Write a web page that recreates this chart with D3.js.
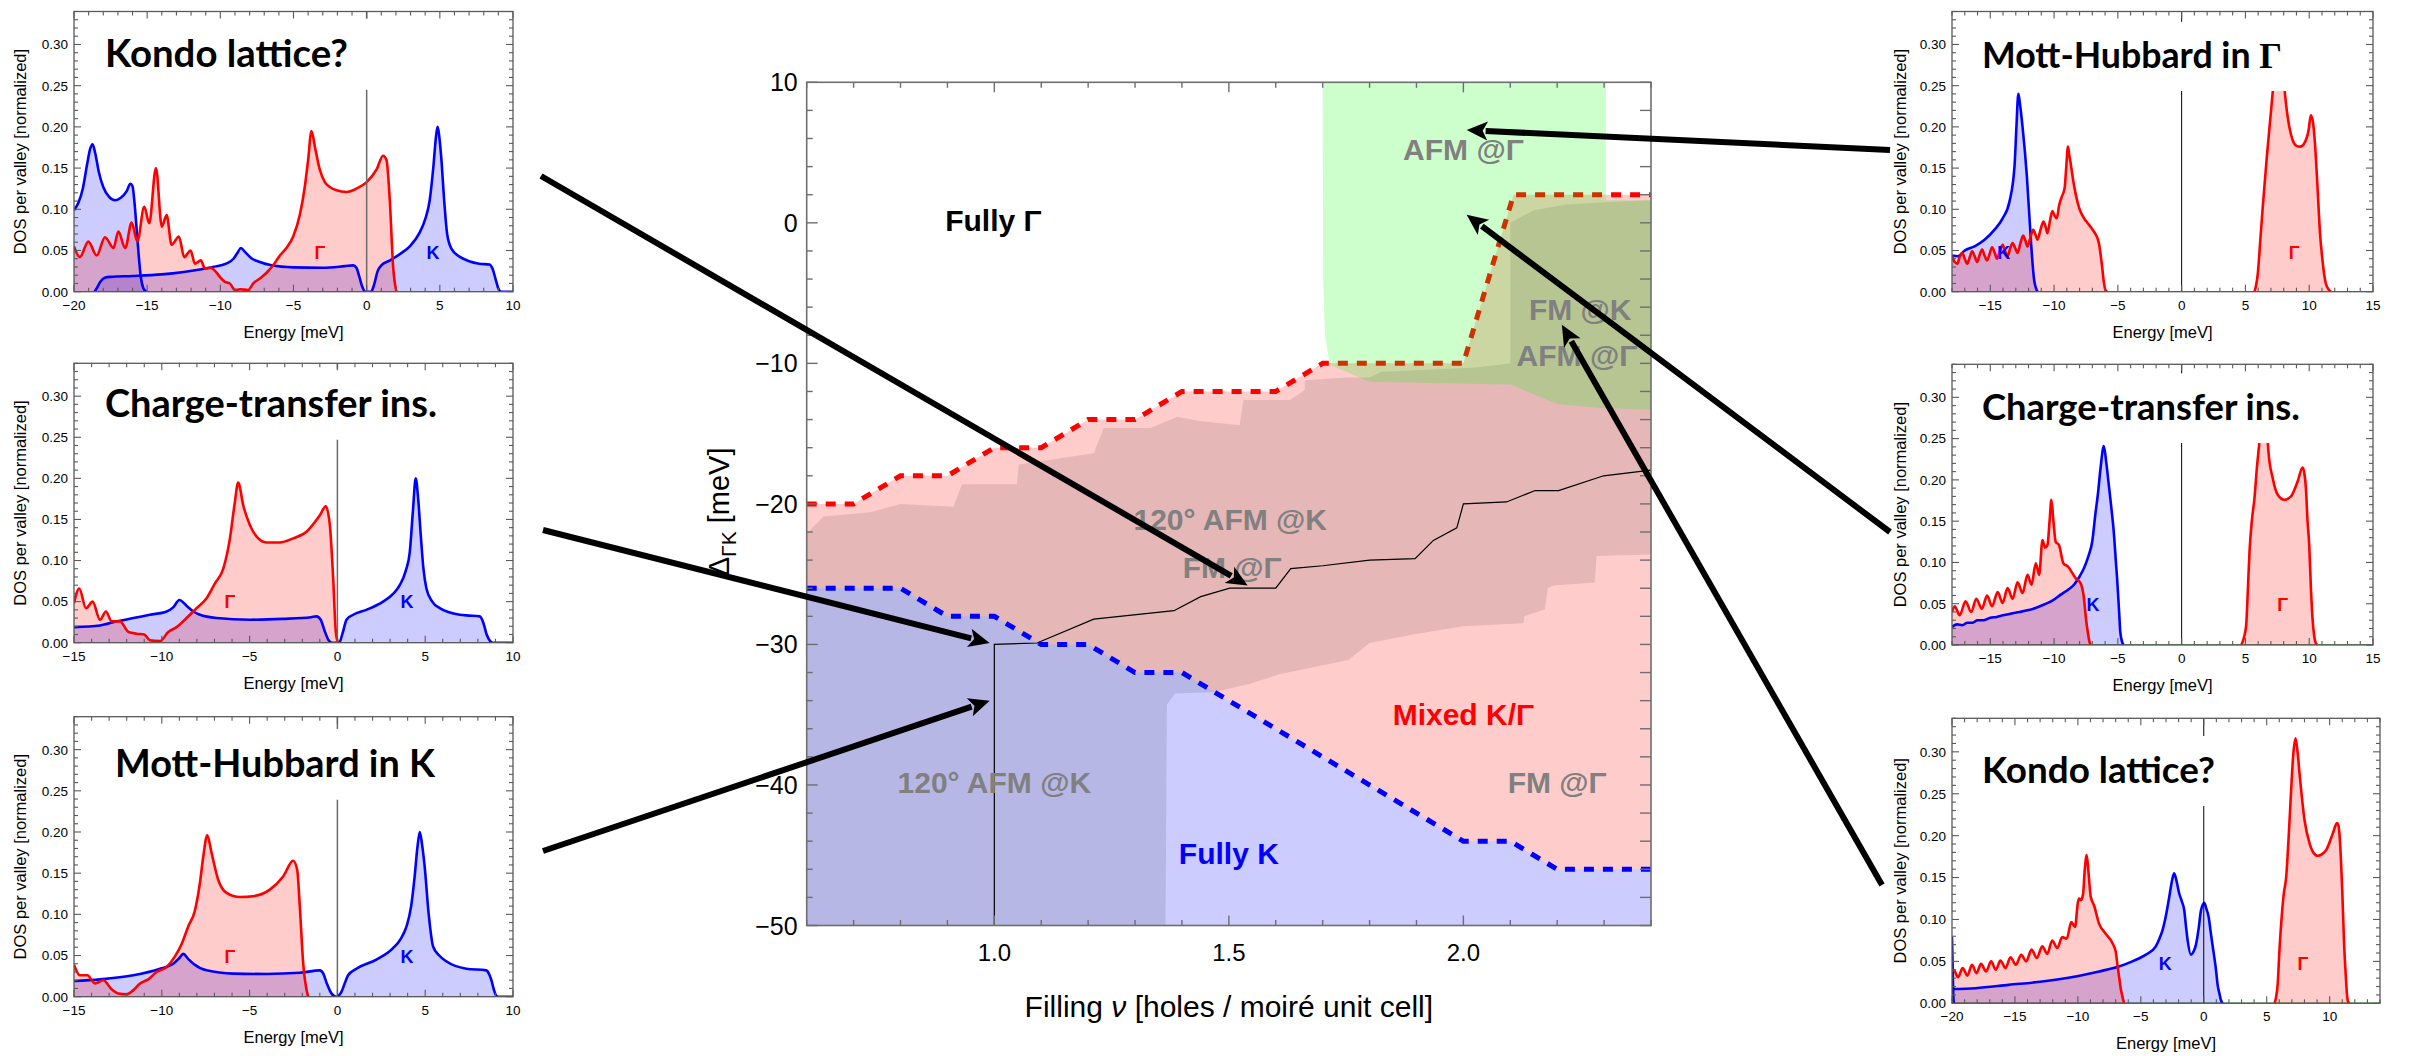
<!DOCTYPE html>
<html>
<head>
<meta charset="utf-8">
<script src="https://cdn.jsdelivr.net/npm/d3@7"></script>
<style>
  body { margin: 0; background: #fff; }
  svg { display: block; }
</style>
</head>
<body>
<svg id="fig" width="2423" height="1056"></svg>
<script>
// ================= Phase diagram: filling ν vs Δ_ΓK =================
const fillingMajorTicks = [1.0, 1.5, 2.0];
const deltaMajorTicks = [10, 0, -10, -20, -30, -40, -50];

// K / mixed boundary (blue dashed)
const kBoundary = [[0.6,-26],[0.8,-26],[0.9,-28],[1.0,-28],[1.1,-30],[1.2,-30],[1.3,-32],[1.4,-32],
  [2.0,-44],[2.1,-44],[2.2,-46],[2.4,-46]];
// Γ / mixed boundary (red dashed)
const gammaBoundary = [[0.6,-20],[0.7,-20],[0.8,-18],[0.9,-18],[1.0,-16],[1.1,-16],[1.2,-14],[1.3,-14],
  [1.4,-12],[1.6,-12],[1.7,-10],[2.0,-10],[2.107,2],[2.4,2]];
// magnetically ordered region (AFM @K / FM @Γ / FM @K)
const magneticRegion = [[0.6,-22.1],[0.636,-20.9],[0.735,-20.6],[0.8,-20.0],[0.913,-20.2],[0.931,-18.6],
  [1.048,-18.6],[1.052,-17.2],[1.212,-16.4],[1.233,-14.6],[1.333,-14.6],[1.39,-13.8],[1.438,-14.1],
  [1.523,-14.4],[1.531,-12.6],[1.63,-12.6],[1.662,-11.9],[1.662,-11.2],[1.751,-11.0],[1.80,-11.0],
  [1.826,-10.6],[2.028,-10.3],[2.1,-10.0],[2.1,0.0],[2.15,0.9],[2.22,1.3],[2.32,1.5],[2.4,1.6],
  [2.4,-23.6],[2.284,-23.7],[2.28,-25.6],[2.192,-25.8],[2.18,-26.0],[2.174,-27.5],[2.13,-28.0],
  [2.128,-28.5],[2.0,-28.7],[1.893,-29.3],[1.8,-29.9],[1.755,-31.1],[1.61,-32.1],[1.545,-32.8],
  [1.468,-33.4],[1.385,-33.5],[1.368,-34.3],[1.365,-50],[0.6,-50]];
// AFM @Γ region
const gammaAfmRegion = [[1.700,10],[1.701,-4],[1.705,-8],[1.715,-10.1],[1.80,-11.3],[2.10,-11.5],
  [2.2,-12.9],[2.3,-13.2],[2.4,-13.3],[2.4,1.6],[2.304,1.6],[2.304,10]];
// 120° AFM @K  |  FM @Γ separation
const afmFmLine = [[1.0,-50],[1.0,-30],[1.091,-29.9],[1.212,-28.2],[1.383,-27.6],[1.44,-26.6],[1.502,-26.0],
  [1.6,-26.0],[1.632,-24.6],[1.70,-24.4],[1.80,-24.0],[1.897,-23.9],[1.936,-22.6],[1.986,-21.7],[2.0,-20.0],
  [2.092,-19.86],[2.153,-19.05],[2.203,-19.05],[2.299,-18.0],[2.4,-17.6]];

const phaseLabelText = ["Fully Γ","AFM @Γ","FM @K","AFM @Γ","120° AFM @K","FM @Γ","120° AFM @K","Fully K","Mixed K/Γ","FM @Γ"];
const phaseLabelAt = [[0.998,-0.6],[2.0,4.48],[2.249,-6.9],[2.242,-10.2],[1.503,-21.84],[1.507,-25.25],
  [1.0,-40.6],[1.5,-45.6],[2.0,-35.7],[2.2,-40.6]];
const phaseLabelKind = ["black","grey","grey","grey","grey","grey","grey","blue","red","grey"];

// arrow targets on the phase diagram (ν, Δ_ΓK)
const arrowTargets = [[1.54,-25.8],[0.99,-29.9],[0.99,-34.0],[2.007,6.6],[2.007,0.57],[2.21,-7.25]];

// ================= DOS curves (energy meV, DOS) =================
// Left column
const kondoA_kLow = [[-20,0.099],[-19.7,0.108],[-19.4,0.125],[-19.1,0.155],[-18.9,0.173],[-18.73,0.179],[-18.55,0.168],
  [-18.3,0.145],[-18.0,0.127],[-17.6,0.115],[-17.2,0.111],[-16.8,0.114],[-16.4,0.122],[-16.15,0.131],[-16.0,0.128],
  [-15.85,0.105],[-15.65,0.06],[-15.45,0.02],[-15.25,0.004],[-15.05,0]];
const kondoA_k = [[-18.6,0],[-18.45,0.004],[-18.2,0.012],[-17.9,0.017],[-17.5,0.018],[-16,0.019],[-14,0.021],[-12.5,0.024],
  [-11.4,0.027],[-10.5,0.030],[-9.6,0.034],[-9.1,0.040],[-8.8,0.048],[-8.6,0.053],[-8.3,0.048],[-7.9,0.041],[-7.3,0.036],
  [-6.5,0.032],[-5,0.0295],[-3,0.029],[-1.5,0.031],[-0.92,0.032],[-0.7,0.029],[-0.5,0.018],[-0.3,0.006],[-0.1,0],[0.3,0],
  [0.5,0.008],[0.75,0.025],[1.0,0.032],[1.6,0.038],[2.3,0.046],[3.0,0.056],[3.6,0.071],[4.0,0.088],[4.3,0.11],[4.55,0.15],
  [4.75,0.19],[4.85,0.20],[4.95,0.19],[5.1,0.162],[5.3,0.11],[5.5,0.07],[5.8,0.052],[6.4,0.042],[7.0,0.037],[7.7,0.034],
  [8.4,0.033],[8.6,0.028],[8.8,0.016],[9.0,0.004],[9.2,0],[10,0]];
const kondoA_g = [[-20,0.055],[-19.6,0.042],[-19.02,0.061],[-18.45,0.044],[-17.88,0.066],[-17.3,0.053],[-16.97,0.073],
  [-16.5,0.053],[-16.06,0.084],[-15.67,0.061],[-15.2,0.103],[-14.86,0.083],[-14.4,0.150],[-14.0,0.079],[-13.67,0.093],
  [-13.33,0.057],[-12.83,0.067],[-12.47,0.042],[-12.03,0.050],[-11.74,0.034],[-11.33,0.038],[-11.05,0.028],[-10.67,0.029],
  [-10.3,0.024],[-10.03,0.018],[-9.69,0.012],[-9.35,0.010],[-9.0,0.002],[-8.66,0.003],[-8.1,0.002],[-7.75,0.010],
  [-7.3,0.016],[-6.84,0.023],[-6.39,0.032],[-5.93,0.044],[-5.48,0.053],[-5.02,0.067],[-4.57,0.093],[-4.23,0.127],
  [-4.0,0.160],[-3.77,0.195],[-3.54,0.176],[-3.2,0.148],[-2.86,0.133],[-2.52,0.127],[-2.06,0.123],[-1.38,0.121],
  [-0.7,0.125],[0,0.133],[0.67,0.148],[1.12,0.165],[1.35,0.16],[1.58,0.111],[1.81,0.030],[2.03,0]];

const chargeA_k = [[-15,0.019],[-13.52,0.021],[-12.57,0.026],[-11.62,0.030],[-10.68,0.034],[-9.73,0.038],[-9.35,0.043],
  [-9.0,0.052],[-8.59,0.045],[-8.2,0.038],[-7.83,0.034],[-6.88,0.030],[-4.98,0.028],[-3.09,0.029],[-1.5,0.031],[-1.19,0.032],
  [-0.95,0.028],[-0.72,0.014],[-0.5,0.003],[-0.3,0],[0.1,0],[0.3,0.012],[0.52,0.028],[0.9,0.034],[1.65,0.040],[2.6,0.050],
  [3.2,0.060],[3.55,0.070],[3.9,0.088],[4.12,0.11],[4.3,0.16],[4.46,0.20],[4.6,0.175],[4.75,0.13],[4.9,0.09],[5.07,0.066],
  [5.4,0.05],[5.83,0.042],[6.97,0.034],[7.5,0.033],[8.1,0.032],[8.3,0.025],[8.5,0.01],[8.7,0.002],[8.86,0],[10,0]];
const chargeA_g = [[-15,0.048],[-14.7,0.066],[-14.32,0.042],[-13.94,0.050],[-13.52,0.028],[-13.18,0.038],[-12.86,0.026],
  [-12.38,0.026],[-11.9,0.013],[-11.43,0.011],[-11.0,0.010],[-10.68,0.003],[-10.1,0.002],[-9.63,0.013],[-9.16,0.019],
  [-8.59,0.030],[-8.02,0.042],[-7.45,0.054],[-6.98,0.072],[-6.5,0.090],[-6.12,0.127],[-5.84,0.171],[-5.65,0.195],
  [-5.36,0.167],[-4.98,0.143],[-4.6,0.129],[-4.04,0.122],[-3.28,0.122],[-2.52,0.127],[-1.76,0.135],[-1.0,0.155],
  [-0.66,0.166],[-0.43,0.143],[-0.24,0.078],[-0.09,0.013],[0.04,0]];

const mottK_k = [[-15,0.019],[-13.52,0.021],[-11.62,0.026],[-10.1,0.034],[-9.35,0.040],[-9.0,0.047],[-8.78,0.052],
  [-8.5,0.046],[-8.2,0.040],[-7.45,0.032],[-5.93,0.028],[-4.04,0.0276],[-2.14,0.029],[-1.0,0.032],[-0.8,0.028],
  [-0.6,0.016],[-0.34,0.004],[-0.05,0],[0.1,0.002],[0.23,0.006],[0.45,0.018],[0.61,0.026],[1.08,0.034],[2.22,0.045],
  [3.17,0.059],[3.6,0.07],[3.93,0.085],[4.2,0.11],[4.4,0.146],[4.55,0.18],[4.69,0.20],[4.82,0.185],[4.97,0.158],
  [5.2,0.1],[5.45,0.061],[5.8,0.05],[6.2,0.043],[7.34,0.034],[8.48,0.032],[8.65,0.027],[8.77,0.020],[8.92,0.008],
  [9.05,0.001],[9.15,0],[10,0]];
const mottK_g = [[-15,0.039],[-14.66,0.026],[-14.24,0.026],[-13.8,0.016],[-13.33,0.020],[-12.86,0.009],[-12.48,0.004],
  [-12.0,0.003],[-11.62,0.008],[-11.24,0.016],[-10.77,0.021],[-10.3,0.030],[-9.73,0.036],[-9.25,0.049],[-8.87,0.064],
  [-8.5,0.085],[-8.11,0.105],[-7.83,0.138],[-7.64,0.170],[-7.41,0.196],[-7.17,0.175],[-6.79,0.142],[-6.31,0.126],
  [-5.55,0.121],[-4.8,0.122],[-3.85,0.130],[-3.09,0.146],[-2.52,0.165],[-2.29,0.154],[-2.14,0.109],[-1.95,0.041],[-1.67,0]];

// Right column
const mottG_k = [[-18,0.044],[-17.53,0.043],[-17.0,0.050],[-16.23,0.055],[-15.45,0.063],[-14.68,0.075],[-14.03,0.089],
  [-13.5,0.109],[-13.1,0.152],[-12.95,0.2],[-12.8,0.240],[-12.65,0.225],[-12.47,0.200],[-12.13,0.140],[-11.82,0.063],
  [-11.56,0.014],[-11.3,0]];
const mottG_gLow = [[-18,0.044],[-17.79,0.036],[-17.58,0.034],[-17.4,0.042],[-17.19,0.047],[-17.0,0.04],[-16.81,0.034],
  [-16.6,0.042],[-16.42,0.049],[-16.2,0.042],[-16.03,0.036],[-15.85,0.044],[-15.64,0.051],[-15.45,0.044],[-15.25,0.038],
  [-15.05,0.046],[-14.86,0.054],[-14.65,0.047],[-14.47,0.040],[-14.25,0.049],[-14.03,0.057],[-13.85,0.05],[-13.64,0.043],
  [-13.45,0.052],[-13.25,0.059],[-13.05,0.053],[-12.86,0.047],[-12.65,0.058],[-12.42,0.068],[-12.25,0.062],[-12.08,0.055],
  [-11.85,0.066],[-11.64,0.075],[-11.45,0.069],[-11.3,0.063],[-11.05,0.076],[-10.83,0.085],[-10.65,0.078],[-10.52,0.071],
  [-10.3,0.088],[-10.13,0.098],[-9.95,0.092],[-9.79,0.089],[-9.6,0.105],[-9.4,0.115],[-9.17,0.126],[-9.05,0.15],
  [-8.91,0.176],[-8.8,0.165],[-8.7,0.156],[-8.5,0.135],[-8.31,0.119],[-8.1,0.105],[-7.92,0.097],[-7.6,0.088],[-7.4,0.084],
  [-7.1,0.078],[-6.88,0.073],[-6.6,0.065],[-6.49,0.059],[-6.35,0.045],[-6.23,0.030],[-6.1,0.012],[-5.97,0.002],[-5.84,0]];
const mottG_gHigh = [[5.71,0],[5.97,0.022],[6.2,0.07],[6.36,0.103],[6.68,0.164],[7.01,0.220],[7.27,0.265],[7.5,0.31],
  [7.65,0.318],[7.85,0.29],[8.1,0.24],[8.44,0.200],[8.7,0.184],[9.0,0.177],[9.3,0.176],[9.61,0.180],[9.95,0.196],
  [10.13,0.214],[10.3,0.205],[10.45,0.18],[10.65,0.127],[10.85,0.07],[11.04,0.038],[11.3,0.01],[11.56,0.002],[11.69,0]];

const chargeB_k = [[-18,0.022],[-17.6,0.025],[-17.2,0.024],[-16.8,0.027],[-16.4,0.027],[-16.0,0.030],[-15.5,0.030],
  [-15.0,0.033],[-14.5,0.034],[-14.0,0.036],[-13.38,0.038],[-12.7,0.040],[-12.08,0.042],[-11.4,0.045],[-10.78,0.049],
  [-10.1,0.054],[-9.48,0.061],[-8.9,0.067],[-8.44,0.073],[-8.0,0.083],[-7.66,0.093],[-7.3,0.108],[-7.01,0.125],
  [-6.75,0.16],[-6.57,0.182],[-6.35,0.215],[-6.1,0.241],[-5.9,0.22],[-5.71,0.194],[-5.5,0.165],[-5.32,0.137],
  [-5.15,0.1],[-5.06,0.081],[-4.9,0.04],[-4.81,0.016],[-4.65,0.003],[-4.55,0]];
const chargeB_gLow = [[-18,0.040],[-17.79,0.047],[-17.4,0.036],[-16.94,0.053],[-16.49,0.040],[-16.1,0.056],[-15.66,0.044],
  [-15.25,0.060],[-14.86,0.047],[-14.42,0.064],[-14.03,0.051],[-13.64,0.069],[-13.25,0.056],[-12.86,0.076],[-12.47,0.063],
  [-12.08,0.085],[-11.77,0.073],[-11.43,0.099],[-11.17,0.085],[-10.91,0.127],[-10.7,0.118],[-10.52,0.121],[-10.35,0.15],
  [-10.21,0.176],[-10.05,0.15],[-9.87,0.125],[-9.61,0.121],[-9.27,0.099],[-8.91,0.095],[-8.31,0.081],[-7.92,0.075],
  [-7.66,0.057],[-7.5,0.032],[-7.4,0.020],[-7.19,0.002],[-7.1,0]];
const chargeB_gHigh = [[4.68,0],[4.9,0.01],[5.06,0.024],[5.2,0.07],[5.32,0.113],[5.5,0.15],[5.71,0.178],[5.9,0.215],
  [6.1,0.247],[6.3,0.29],[6.45,0.318],[6.6,0.29],[6.8,0.235],[7.14,0.202],[7.53,0.182],[8.05,0.176],[8.57,0.180],
  [9.09,0.198],[9.48,0.215],[9.62,0.208],[9.74,0.19],[9.87,0.15],[10.0,0.121],[10.13,0.07],[10.26,0.032],[10.4,0.01],
  [10.52,0.002],[10.65,0]];

const kondoB_kEdge = [[-20,0.079],[-19.95,0.045],[-19.9,0.01],[-19.85,0]];
const kondoB_k = [[-20,0.017],[-18.14,0.018],[-15.49,0.022],[-12.83,0.026],[-10.18,0.032],[-8.32,0.038],[-6.73,0.044],
  [-5.67,0.050],[-4.6,0.058],[-3.81,0.068],[-3.5,0.078],[-3.28,0.087],[-3.0,0.105],[-2.74,0.127],[-2.5,0.148],
  [-2.35,0.155],[-2.15,0.145],[-1.95,0.131],[-1.75,0.122],[-1.55,0.111],[-1.4,0.09],[-1.28,0.075],[-1.02,0.058],
  [-0.8,0.062],[-0.62,0.070],[-0.4,0.09],[-0.22,0.111],[0.04,0.120],[0.2,0.113],[0.39,0.103],[0.55,0.085],[0.71,0.068],
  [0.97,0.040],[1.1,0.022],[1.24,0.012],[1.38,0.003],[1.5,0]];
const kondoB_gLow = [[-20,0.038],[-19.87,0.040],[-19.52,0.031],[-19.15,0.042],[-18.78,0.033],[-18.41,0.046],[-18.06,0.036],
  [-17.69,0.047],[-17.29,0.038],[-16.89,0.050],[-16.52,0.040],[-16.15,0.051],[-15.75,0.042],[-15.35,0.055],[-14.93,0.046],
  [-14.5,0.058],[-14.11,0.050],[-13.68,0.064],[-13.26,0.054],[-12.83,0.068],[-12.43,0.059],[-12.04,0.075],[-11.64,0.066],
  [-11.24,0.079],[-10.89,0.077],[-10.52,0.097],[-10.23,0.091],[-10.0,0.12],[-9.91,0.125],[-9.75,0.123],[-9.59,0.130],
  [-9.45,0.16],[-9.30,0.177],[-9.15,0.155],[-8.98,0.127],[-8.72,0.117],[-8.32,0.095],[-7.79,0.083],[-7.26,0.072],
  [-7.0,0.062],[-6.85,0.045],[-6.73,0.032],[-6.6,0.018],[-6.46,0.008],[-6.33,0]];
const kondoB_gHigh = [[5.62,0],[5.75,0.008],[5.88,0.024],[6.0,0.06],[6.15,0.095],[6.35,0.13],[6.55,0.151],[6.75,0.2],
  [6.94,0.254],[7.1,0.295],[7.29,0.316],[7.45,0.3],[7.61,0.274],[8.0,0.219],[8.4,0.191],[8.7,0.18],[9.07,0.176],
  [9.4,0.178],[9.73,0.183],[10.26,0.203],[10.58,0.215],[10.7,0.212],[10.79,0.2],[10.9,0.17],[11.0,0.135],[11.15,0.07],
  [11.27,0.036],[11.38,0.01],[11.46,0.002],[11.59,0]];

const dosMajorTicks = [0.00, 0.05, 0.10, 0.15, 0.20, 0.25, 0.30];
const panelTitles = ["Kondo lattice?", "Charge-transfer ins.", "Mott-Hubbard in K",
                     "Mott-Hubbard in Γ", "Charge-transfer ins.", "Kondo lattice?"];

// ================= drawing =================
const svg = d3.select("#fig");
const defs = svg.append("defs");
const SANS = "'Liberation Sans', Arial, sans-serif";
const TITLE_FONT = "Lato, 'Open Sans', sans-serif";
const RED = "#ff0000", BLUE = "#0000ff", GREY = "#808080";
const colorOf = { red: RED, blue: BLUE, grey: GREY, black: "#000" };

// ---------- central phase diagram ----------
const cx = d3.scaleLinear().domain([0.6, 2.4]).range([806.7, 1651]);
const cy = d3.scaleLinear().domain([-50, 10]).range([925.5, 82.3]);
const pline = d3.line().x(d => cx(d[0])).y(d => cy(d[1]));
const poly = pts => pline(pts) + "Z";

defs.append("clipPath").attr("id", "clipMain").append("rect")
  .attr("x", cx(0.6)).attr("y", cy(10))
  .attr("width", cx(2.4) - cx(0.6)).attr("height", cy(-50) - cy(10));

const phase = svg.append("g");
const pl = phase.append("g").attr("clip-path", "url(#clipMain)");

pl.append("path").attr("d", poly([...gammaBoundary, [2.4, -50], [0.6, -50]])).attr("fill", "#ffcccc");
pl.append("path").attr("d", poly([...kBoundary, [2.4, -50], [0.6, -50]])).attr("fill", "#ccccff");
pl.append("path").attr("d", poly(magneticRegion)).attr("fill", "rgba(0,0,0,0.1)");
pl.append("path").attr("d", pline(afmFmLine)).attr("fill", "none").attr("stroke", "#000").attr("stroke-width", 1.2);
pl.append("path").attr("d", pline(gammaBoundary)).attr("fill", "none").attr("stroke", RED)
  .attr("stroke-width", 5).attr("stroke-dasharray", "10,9");
pl.append("path").attr("d", pline(kBoundary)).attr("fill", "none").attr("stroke", BLUE)
  .attr("stroke-width", 5).attr("stroke-dasharray", "10,9");
pl.append("path").attr("d", poly(gammaAfmRegion)).attr("fill", "rgba(0,255,0,0.2)");

phaseLabelText.forEach((t, i) => {
  phase.append("text")
    .attr("x", cx(phaseLabelAt[i][0])).attr("y", cy(phaseLabelAt[i][1]))
    .attr("text-anchor", "middle")
    .attr("font-family", SANS).attr("font-weight", "bold").attr("font-size", 30)
    .attr("fill", colorOf[phaseLabelKind[i]])
    .text(t);
});

// frame and inward ticks
const FRAME = "#6e6e6e";
phase.append("rect").attr("x", cx(0.6)).attr("y", cy(10))
  .attr("width", cx(2.4) - cx(0.6)).attr("height", cy(-50) - cy(10))
  .attr("fill", "none").attr("stroke", FRAME).attr("stroke-width", 1.6);
const fxTicks = d3.range(6, 25).map(v => v / 10);
fxTicks.forEach(v => {
  const major = fillingMajorTicks.some(m => Math.abs(m - v) < 1e-6);
  const L = major ? 10 : 5.5;
  phase.append("line").attr("x1", cx(v)).attr("x2", cx(v)).attr("y1", cy(-50)).attr("y2", cy(-50) - L)
    .attr("stroke", FRAME).attr("stroke-width", 1.4);
  phase.append("line").attr("x1", cx(v)).attr("x2", cx(v)).attr("y1", cy(10)).attr("y2", cy(10) + L)
    .attr("stroke", FRAME).attr("stroke-width", 1.4);
});
d3.range(-50, 11, 2).forEach(v => {
  const major = deltaMajorTicks.includes(v);
  const L = major ? 11 : 6;
  phase.append("line").attr("x1", cx(0.6)).attr("x2", cx(0.6) + L).attr("y1", cy(v)).attr("y2", cy(v))
    .attr("stroke", FRAME).attr("stroke-width", 1.4);
  phase.append("line").attr("x1", cx(2.4)).attr("x2", cx(2.4) - 11).attr("y1", cy(v)).attr("y2", cy(v))
    .attr("stroke", FRAME).attr("stroke-width", 1.4);
});
const fmtInt = d3.format("d"), fmt1 = d3.format(".1f"), fmt2 = d3.format(".2f");
deltaMajorTicks.forEach(v => {
  phase.append("text").attr("x", cx(0.6) - 9).attr("y", cy(v)).attr("dy", "0.36em")
    .attr("text-anchor", "end").attr("font-family", SANS).attr("font-size", 25).attr("fill", "#000")
    .text(fmtInt(v));
});
fillingMajorTicks.forEach(v => {
  phase.append("text").attr("x", cx(v)).attr("y", cy(-50) + 35)
    .attr("text-anchor", "middle").attr("font-family", SANS).attr("font-size", 24).attr("fill", "#000")
    .text(fmt1(v));
});
const xl = phase.append("text").attr("x", (cx(0.6) + cx(2.4)) / 2 + 0).attr("y", cy(-50) + 91)
  .attr("text-anchor", "middle").attr("font-family", SANS).attr("font-size", 30).attr("fill", "#000");
xl.append("tspan").text("Filling ");
xl.append("tspan").attr("font-style", "italic").text("ν");
xl.append("tspan").text(" [holes / moiré unit cell]");

const yl = phase.append("text")
  .attr("transform", `translate(729,${(cy(10) + cy(-50)) / 2 + 8}) rotate(-90)`)
  .attr("text-anchor", "middle").attr("font-family", SANS).attr("font-size", 29).attr("fill", "#000");
yl.append("tspan").text("Δ");
yl.append("tspan").attr("font-size", 21).attr("dy", 7).text("ΓK");
yl.append("tspan").attr("dy", -7).text(" [meV]");

// ---------- DOS panels ----------
const panels = [
  { box: [74, 513, 11.5, 291.7], x: [-20, 10], tx: 105, tb: 66.7, tw: 243, zero: ["#6a6a6a", 1.5], ax: 26,
    series: [[kondoA_kLow, BLUE], [kondoA_k, BLUE], [kondoA_g, RED]],
    labels: [["Γ", -3.2, 0.048, RED], ["K", 4.54, 0.048, BLUE]] },
  { box: [74, 513, 363.3, 642.7], x: [-15, 10], tx: 105, tb: 416.7, tw: 332, zero: ["#6a6a6a", 1.5], ax: 26,
    series: [[chargeA_k, BLUE], [chargeA_g, RED]],
    labels: [["Γ", -6.12, 0.05, RED], ["K", 3.97, 0.05, BLUE]] },
  { box: [74, 513, 716.7, 996.7], x: [-15, 10], tx: 115, tb: 776.7, tw: 320, zero: ["#6a6a6a", 1.5], ax: 26,
    series: [[mottK_k, BLUE], [mottK_g, RED]],
    labels: [["Γ", -6.12, 0.049, RED], ["K", 3.97, 0.049, BLUE]] },
  { box: [1952, 2373, 11.5, 291.7], x: [-18, 15], tx: 1982, tb: 68, tw: 300, zero: ["#000", 1], ax: 1906,
    series: [[mottG_k, BLUE], [mottG_gLow, RED], [mottG_gHigh, RED]],
    labels: [["K", -13.95, 0.048, BLUE], ["Γ", 8.83, 0.048, RED]] },
  { box: [1952, 2373, 364.3, 645], x: [-18, 15], tx: 1982, tb: 420, tw: 318, zero: ["#000", 1], ax: 1906,
    series: [[chargeB_k, BLUE], [chargeB_gLow, RED], [chargeB_gHigh, RED]],
    labels: [["K", -6.94, 0.049, BLUE], ["Γ", 7.92, 0.049, RED]] },
  { box: [1952, 2380, 718.3, 1003.3], x: [-20, 14], tx: 1982, tb: 783, tw: 233, zero: ["#000", 1], ax: 1906,
    series: [[kondoB_kEdge, BLUE], [kondoB_k, BLUE], [kondoB_gLow, RED], [kondoB_gHigh, RED]],
    labels: [["K", -3.06, 0.048, BLUE], ["Γ", 7.87, 0.048, RED]] }
];

panels.forEach((p, idx) => {
  const [L, R, T, B] = p.box;
  const xs = d3.scaleLinear().domain(p.x).range([L, R]);
  const ys = d3.scaleLinear().domain([0, 0.34]).range([B, T]);
  const g = svg.append("g");
  const cid = "clipP" + idx;
  defs.append("clipPath").attr("id", cid).append("rect")
    .attr("x", L).attr("y", T).attr("width", R - L).attr("height", B - T);
  const inner = g.append("g").attr("clip-path", `url(#${cid})`);

  // baseline of the remaining valley component
  inner.append("line").attr("x1", L).attr("x2", R).attr("y1", ys(0)).attr("y2", ys(0))
    .attr("stroke", "#2f7d2f").attr("stroke-width", 1.6);

  const area = d3.area().curve(d3.curveMonotoneX).x(d => xs(d[0])).y0(ys(0)).y1(d => ys(d[1]));
  const ln = d3.line().curve(d3.curveMonotoneX).x(d => xs(d[0])).y(d => ys(d[1]));
  p.series.forEach(([data, col]) => {
    inner.append("path").attr("d", area(data)).attr("fill", col).attr("fill-opacity", 0.2);
  });
  p.series.forEach(([data, col]) => {
    inner.append("path").attr("d", ln(data)).attr("fill", "none").attr("stroke", col)
      .attr("stroke-width", 2.6).attr("stroke-linejoin", "round");
  });

  // Fermi level
  inner.append("line").attr("x1", xs(0)).attr("x2", xs(0)).attr("y1", ys(0)).attr("y2", T)
    .attr("stroke", p.zero[0]).attr("stroke-width", p.zero[1]);

  // title on a white plate
  const title = g.append("text").attr("x", p.tx).attr("y", p.tb)
    .attr("font-family", TITLE_FONT).attr("font-weight", "bold").attr("font-size", 32).attr("fill", "#000");
  const words = panelTitles[idx];
  if (words.endsWith("Γ")) {
    title.append("tspan").text(words.slice(0, -1));
    title.append("tspan").attr("font-family", "'Liberation Serif', 'DejaVu Serif', serif").text("Γ");
  } else {
    title.text(words);
  }
  const w0 = title.node().getComputedTextLength();
  const fs = 32 * p.tw / w0;
  title.attr("font-size", fs);
  g.insert("rect", "text")
    .attr("x", p.tx - 12).attr("y", p.tb - fs * 0.68 - 22)
    .attr("width", p.tw + 32).attr("height", fs * 0.68 + 45)
    .attr("fill", "#fff");

  p.labels.forEach(([t, x, y, col]) => {
    g.append("text").attr("x", xs(x)).attr("y", ys(y)).attr("dy", "0.36em")
      .attr("text-anchor", "middle").attr("font-family", SANS).attr("font-weight", "bold")
      .attr("font-size", 18).attr("fill", col).text(t);
  });

  // frame + inward ticks on all sides
  const FR = "#5a5a5a";
  g.append("rect").attr("x", L).attr("y", T).attr("width", R - L).attr("height", B - T)
    .attr("fill", "none").attr("stroke", FR).attr("stroke-width", 1.3);
  d3.range(Math.ceil(p.x[0]), Math.floor(p.x[1]) + 1).forEach(v => {
    const len = v % 5 === 0 ? 7 : 4;
    g.append("line").attr("x1", xs(v)).attr("x2", xs(v)).attr("y1", B).attr("y2", B - len).attr("stroke", FR).attr("stroke-width", 1.1);
    g.append("line").attr("x1", xs(v)).attr("x2", xs(v)).attr("y1", T).attr("y2", T + len).attr("stroke", FR).attr("stroke-width", 1.1);
  });
  d3.range(0, 35).forEach(k => {
    const v = k / 100;
    const len = k % 5 === 0 ? 7 : 4;
    g.append("line").attr("x1", L).attr("x2", L + len).attr("y1", ys(v)).attr("y2", ys(v)).attr("stroke", FR).attr("stroke-width", 1.1);
    g.append("line").attr("x1", R).attr("x2", R - len).attr("y1", ys(v)).attr("y2", ys(v)).attr("stroke", FR).attr("stroke-width", 1.1);
  });
  d3.range(Math.ceil(p.x[0] / 5) * 5, p.x[1] + 0.01, 5).forEach(v => {
    g.append("text").attr("x", xs(v)).attr("y", B + 18).attr("text-anchor", "middle")
      .attr("font-family", SANS).attr("font-size", 13.5).attr("fill", "#000").text(fmtInt(v));
  });
  dosMajorTicks.forEach(v => {
    g.append("text").attr("x", L - 6).attr("y", ys(v)).attr("dy", "0.36em").attr("text-anchor", "end")
      .attr("font-family", SANS).attr("font-size", 13.5).attr("fill", "#000").text(fmt2(v));
  });
  g.append("text").attr("x", (L + R) / 2).attr("y", B + 46).attr("text-anchor", "middle")
    .attr("font-family", SANS).attr("font-size", 16.5).attr("fill", "#000").text("Energy [meV]");
  g.append("text").attr("transform", `translate(${p.ax},${(T + B) / 2}) rotate(-90)`)
    .attr("text-anchor", "middle").attr("font-family", SANS).attr("font-size", 16.5).attr("fill", "#000")
    .text("DOS per valley [normalized]");
});

// ---------- arrows from the DOS panels to their phase points ----------
const arrowFrom = [[541, 176], [543, 530], [543, 851], [1890, 150], [1890, 532], [1882, 885]];
const arrows = svg.append("g");
arrowTargets.forEach((t, i) => {
  const [x0, y0] = arrowFrom[i];
  const x1 = cx(t[0]), y1 = cy(t[1]);
  const dx = x1 - x0, dy = y1 - y0, len = Math.hypot(dx, dy);
  const ux = dx / len, uy = dy / len;
  const head = 21, half = 9.5;
  const bx = x1 - ux * head, by = y1 - uy * head;
  arrows.append("line").attr("x1", x0).attr("y1", y0).attr("x2", bx + ux * 2).attr("y2", by + uy * 2)
    .attr("stroke", "#000").attr("stroke-width", 6);
  arrows.append("path")
    .attr("d", `M${x1},${y1}L${bx - uy * half},${by + ux * half}L${bx + ux * 5},${by + uy * 5}L${bx + uy * half},${by - ux * half}Z`)
    .attr("fill", "#000");
});
</script>
</body>
</html>
